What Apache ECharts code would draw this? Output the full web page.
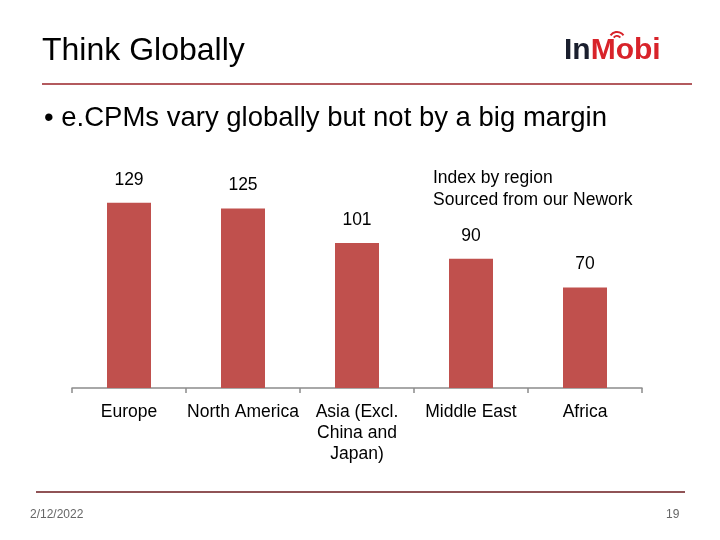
<!DOCTYPE html>
<html>
<head>
<meta charset="utf-8">
<script src="https://cdn.jsdelivr.net/npm/echarts@6/dist/echarts.min.js"></script>
<style>html,body{margin:0;padding:0;background:#fff;}#c{width:720px;height:540px;}</style>
</head>
<body>
<div id="c"></div>
<script>
const categories = ['Europe', 'North America', 'Asia (Excl.\nChina and\nJapan)', 'Middle East', 'Africa'];
const values = [129, 125, 101, 90, 70];

const chart = echarts.init(document.getElementById('c'));
const FONT = '"Liberation Sans", Arial, sans-serif';
chart.setOption({
  animation: false,
  backgroundColor: '#ffffff',
  grid: { left: 72, right: 78, top: 187, bottom: 152 },
  xAxis: {
    type: 'category',
    data: categories,
    axisLine: { lineStyle: { color: '#8c8c8c', width: 1.5 } },
    axisTick: { show: true, length: 5, lineStyle: { color: '#8c8c8c', width: 1.5 } },
    axisLabel: { color: '#000', fontFamily: FONT, fontSize: 17.5, margin: 14, lineHeight: 21, interval: 0 }
  },
  yAxis: { type: 'value', min: 0, max: 140, show: false, splitLine: { show: false } },
  series: [{
    type: 'bar',
    data: values,
    barWidth: 44,
    itemStyle: { color: '#C0504D' },
    label: { show: true, position: 'top', distance: 14, color: '#000', fontFamily: FONT, fontSize: 17.5 }
  }],
  graphic: [
    { type: 'text', left: 42, top: 35, style: { text: 'Think Globally', font: '32px ' + FONT, fill: '#000' } },
    { type: 'line', shape: { x1: 42, y1: 84, x2: 692, y2: 84 }, style: { stroke: '#9A2329', lineWidth: 1.5 } },
    { type: 'text', left: 44, top: 104, style: { text: '• e.CPMs vary globally but not by a big margin', font: '27.5px ' + FONT, fill: '#000' } },
    { type: 'text', left: 433, top: 167, style: { text: 'Index by region\nSourced from our Nework', font: '17.5px ' + FONT, lineHeight: 22, fill: '#000' } },
    { type: 'text', left: 564, top: 36, style: {
        text: '{a|In}{b|Mobi}',
        rich: {
          a: { fontFamily: FONT, fontWeight: 'bold', fontSize: 30, fill: '#1a1f2e', color: '#1a1f2e' },
          b: { fontFamily: FONT, fontWeight: 'bold', fontSize: 30, fill: '#D8232A', color: '#D8232A' }
        } } },
    { type: 'arc', shape: { cx: 617, cy: 40, r: 4, startAngle: -Math.PI * 0.8, endAngle: -Math.PI * 0.2 }, style: { stroke: '#D8232A', lineWidth: 2, fill: null } },
    { type: 'arc', shape: { cx: 617, cy: 40, r: 8, startAngle: -Math.PI * 0.8, endAngle: -Math.PI * 0.2 }, style: { stroke: '#D8232A', lineWidth: 2, fill: null } },
    { type: 'line', shape: { x1: 36, y1: 492, x2: 685, y2: 492 }, style: { stroke: '#6B1A1E', lineWidth: 1.5 } },
    { type: 'text', left: 30, top: 509, style: { text: '2/12/2022', font: '12px ' + FONT, fill: '#666' } },
    { type: 'text', left: 666, top: 509, style: { text: '19', font: '12px ' + FONT, fill: '#666' } }
  ]
});
</script>
</body>
</html>
